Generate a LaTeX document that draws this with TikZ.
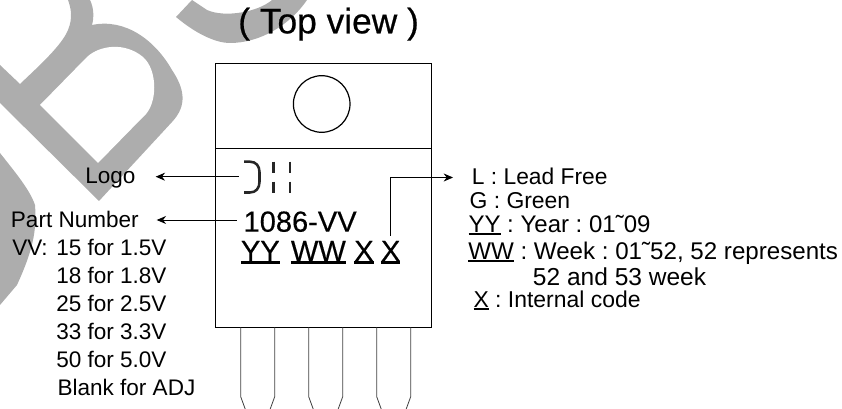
\documentclass[tikz,border=0pt]{standalone}
\usepackage{fontspec}
\setmainfont{Liberation Sans}
\newfontfamily\heavyfont[FakeBold=0.35]{Liberation Sans}
\newfontfamily\titlefont[FakeBold=0.6]{Liberation Sans}
\usetikzlibrary{arrows.meta}

\frenchspacing
\definecolor{markgray}{HTML}{ADADAD}
\newlength\ulwd
\newcommand{\ulword}[1]{\settowidth{\ulwd}{#1}\rlap{\rule[-.09em]{\ulwd}{.08em}}#1}
\newcommand{\wave}{\symbol{"02DC}}

\tikzset{
	lbl/.style={anchor=base west,inner sep=0pt,font=\fontsize{16.9}{20}\selectfont},
	bigtxt/.style={anchor=base west,inner sep=0pt,font=\heavyfont\fontsize{21.8}{26}\selectfont},
	pkg/.style={line width=0.7pt},
	pinline/.style={line width=0.6pt,black!75},
	arr/.style={line width=0.6pt,-{Stealth[length=7pt,width=6pt]}},
	logostroke/.style={line width=1.9pt,black!85}
}

\begin{document}
\begin{tikzpicture}[x=0.75pt,y=-0.75pt]
	\useasboundingbox (0,0) rectangle (842,409);
	
	% watermark
	\fill[markgray] (0,65) -- (20,84) .. controls (40,65) and (62,45) .. (68,30) .. controls (73,18) and (71,8) .. (68,0) -- (90,0) .. controls (94,8) and (94,18) .. (92,25) .. controls (125,18) and (155,40) .. (172,70) .. controls (184,88) and (188,105) .. (172,122) -- (99,201) -- (0,103) -- cycle;
	\fill[white] (40,105) -- (87,57) .. controls (100,45) and (125,42) .. (143,57) .. controls (158,70) and (158,105) .. (143,117) -- (98,163) -- cycle;
	\fill[markgray] (176,17) .. controls (195,33) and (215,43) .. (230,43) .. controls (260,43) and (290,25) .. (307,0) -- (272,0) .. controls (258,12) and (225,18) .. (207,10) -- (192,0) -- cycle;
	\fill[markgray] (0,153) .. controls (15,172) and (30,190) .. (35,205) .. controls (37,230) and (33,250) .. (17,285) -- (0,305) -- cycle;
	
	\node[font=\titlefont\fontsize{26.5}{30}\selectfont,anchor=base west,inner sep=0pt] (title) at (238,33.3) {( Top view )};
	
	% package
	\draw[pkg] (215.7,63.3) rectangle (431.7,327.3);
	\draw[pkg] (215.7,148.5) -- (431.7,148.5);
	\draw[line width=0.9pt] (321.7,104) circle[radius=28.3];
	
	\foreach \x in {240.7,308.7,376.7}
	{
		\draw[pinline] (\x,327.3) -- (\x,396.7) -- (\x+4.5,409);
		\draw[pinline] (\x+34,327.3) -- (\x+34,396.7) -- (\x+29.5,409);
	}
	
	% logo
	\draw[logostroke] (244,161.7) -- (250,161.7) .. controls (256,161.7) and (259.5,166) .. (259.5,172) -- (259.5,182) .. controls (259.5,188) and (256,192.5) .. (250,192.5) -- (244,192.5);
	\foreach \x in {273.3,290}
	{
		\draw[logostroke] (\x,161.7) -- (\x,173);
		\draw[logostroke] (\x,181.7) -- (\x,192.7);
	}
	
	% marking
	\node[bigtxt] (partno) at (243.3,231.7) {1086-VV};
	\node[bigtxt] (yy) at (240.7,261) {\ulword{YY}};
	\node[bigtxt] (ww) at (290.7,261) {\ulword{WW}};
	\node[bigtxt] (xa) at (354,261) {\ulword{X}};
	\node[bigtxt] (xb) at (380.7,261) {\ulword{X}};
	
	% left labels
	\node[lbl] (logo) at (85,183.3) {Logo};
	\node[lbl] (partlabel) at (10.7,227.7) {Part Number};
	\node[lbl] (vv) at (12,255.7) {VV:};
	\node[lbl] (v15) at (56,255.7) {15 for 1.5V};
	\node[lbl] (v18) at (56,283.3) {18 for 1.8V};
	\node[lbl] (v25) at (56,311.7) {25 for 2.5V};
	\node[lbl] (v33) at (56,339.3) {33 for 3.3V};
	\node[lbl] (v50) at (56,367.7) {50 for 5.0V};
	\node[lbl] (vadj) at (57.3,395.7) {Blank for ADJ};
	
	% right labels
	\node[lbl,font=\fontsize{17.1}{20}\selectfont] (lead) at (471.7,185) {L : Lead Free};
	\node[lbl,font=\fontsize{17.2}{20}\selectfont] (green) at (469.3,208.3) {G : Green};
	\node[lbl,font=\fontsize{18}{20}\selectfont] (year) at (468.3,232.7) {\ulword{YY} : Year : 01\wave09};
	\node[lbl,font=\fontsize{18.1}{20}\selectfont] (week) at (468,260) {\ulword{WW} : Week : 01\wave52, 52 represents};
	\node[lbl,font=\fontsize{18.4}{20}\selectfont] (weekb) at (532.7,285.7) {52 and 53 week};
	\node[lbl,font=\fontsize{17.2}{20}\selectfont] (code) at (473.3,307.7) {\ulword{X} : Internal code};
	
	% arrows
	\coordinate (logostart) at (238.7,176.7);
	\coordinate (logotip) at (155.7,176.7);
	\coordinate (partstart) at (236.7,220);
	\coordinate (parttip) at (156.7,220);
	\coordinate (xstart) at (390.3,235.7);
	\coordinate (xcorner) at (390.3,177.5);
	\coordinate (leadtip) at (453,177.5);
	\draw[arr] (logostart) -- (logotip);
	\draw[arr] (partstart) -- (parttip);
	\draw[arr] (xstart) -- (xcorner) -- (leadtip);
	
\end{tikzpicture}
\end{document}
